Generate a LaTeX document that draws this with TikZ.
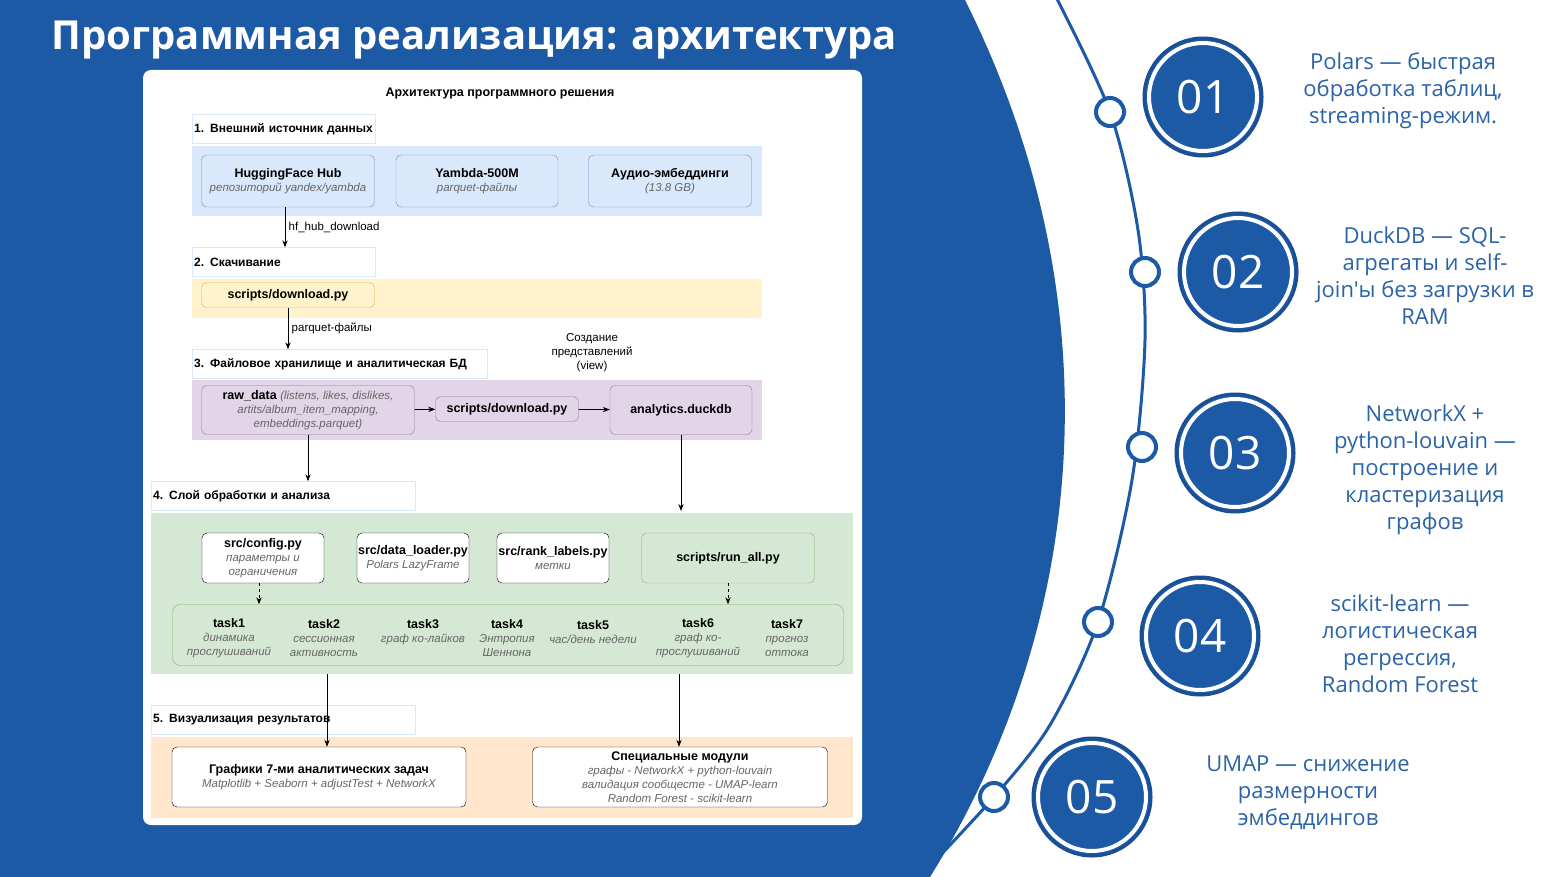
\documentclass[tikz,border=0pt]{standalone}
\usepackage{fontspec}
\setmainfont{Liberation Sans}
\newfontfamily\slidefont{Open Sans}
\usetikzlibrary{positioning,arrows.meta}
\definecolor{slideblue}{HTML}{1D5AA6}
\definecolor{ringblue}{HTML}{1A4F93}
\definecolor{txtblue}{HTML}{2A63A8}
\definecolor{bandblue}{HTML}{DAE8FC}
\definecolor{lineblue}{HTML}{6C8EBF}
\definecolor{bandyellow}{HTML}{FFF2CC}
\definecolor{lineyellow}{HTML}{D6B656}
\definecolor{bandpurple}{HTML}{E1D5E7}
\definecolor{linepurple}{HTML}{9673A6}
\definecolor{bandgreen}{HTML}{D5E8D4}
\definecolor{linegreen}{HTML}{82B366}
\definecolor{bandorange}{HTML}{FFE6CC}
\newcommand{\subtxt}[1]{{\fontsize{11.5}{14}\selectfont\mdseries\itshape\color{black!60}#1}}
\tikzset
{
    sectlabel/.style = {draw=bandblue, fill=white, anchor=west, inner xsep=2pt, align=left, font=\fontsize{12}{13}\selectfont\bfseries, minimum height=29pt},
    box/.style       = {draw, rounded corners=5pt, align=center, font=\fontsize{12.5}{14}\selectfont\bfseries, inner sep=1pt},
    task/.style      = {align=center, font=\fontsize{12.5}{14}\selectfont\bfseries},
    numcirc/.style   = {circle, fill=slideblue, draw=ringblue, line width=3pt, minimum size=118pt, text=white, font=\slidefont\fontsize{46}{46}\selectfont},
    numring/.style   = {circle, draw=white, line width=4pt, minimum size=108pt},
    dot/.style       = {circle, fill=white, draw=slideblue, line width=4pt, minimum size=28pt},
    sidetext/.style  = {align=center, text=txtblue, font=\slidefont\fontsize{22}{27}\selectfont},
    flow/.style      = {-{Stealth[length=7pt]}, thick}
}
\begin{document}
\begin{tikzpicture}[x=1pt, y=-1pt]
    \useasboundingbox (0,0) rectangle (1560,877);
    \fill[white] (0,0) rectangle (1560,877);
    % blue background
    \fill[slideblue] (0,0) -- (965,0) .. controls (1115,300) and (1090,620) .. (930,877) -- (0,877) -- cycle;
    \node[anchor=west, text=white, font=\slidefont\fontsize{40}{40}\selectfont\bfseries] (title) at (48,40) {Программная реализация: архитектура};
    % arc with circles
    \draw[slideblue, line width=3pt] plot[smooth] coordinates {(1055,-5) (1110,112) (1138,230) (1145,340) (1132,480) (1098,622) (1050,725) (994,797) (915,882)};
    \node[dot] (d1) at (1110,112) {};
    \node[dot] (d2) at (1145,272) {};
    \node[dot] (d3) at (1142,447) {};
    \node[dot] (d4) at (1098,622) {};
    \node[dot] (d5) at (994,797) {};
    \foreach \n/\p in {1/{1203,97}, 2/{1238,272}, 3/{1235,453}, 4/{1200,636}, 5/{1092,797}}
    {
        \node[numcirc] (c\n) at (\p) {0\n};
        \node[numring] at (\p) {};
    }
    \node[sidetext] (t1) at (1403,91) {Polars — быстрая\\обработка таблиц,\\streaming-режим.};
    \node[sidetext] (t2) at (1425,276) {DuckDB — SQL-\\агрегаты и self-\\join'ы без загрузки в\\RAM};
    \node[sidetext] (t3) at (1425,470) {NetworkX +\\python-louvain —\\построение и\\кластеризация\\графов};
    \node[sidetext] (t4) at (1400,644) {scikit-learn —\\логистическая\\регрессия,\\Random Forest};
    \node[sidetext] (t5) at (1308,793) {UMAP — снижение\\размерности\\эмбеддингов};
    % diagram panel
    \fill[white, rounded corners=8pt] (143,70) rectangle (862,825);
    \node[font=\fontsize{12.5}{13}\selectfont\bfseries] (dtitle) at (500,93) {Архитектура программного решения};
    % bands
    \fill[bandblue] (192,146) rectangle (762,216);
    \fill[bandyellow] (192,279) rectangle (762,318);
    \fill[bandpurple] (192,380) rectangle (762,440);
    \fill[bandgreen] (151,513) rectangle (853,674);
    \fill[bandorange] (151,737) rectangle (853,818);
    \node[sectlabel, text width=179pt] (s1) at (192,129) {1. Внешний источник данных};
    \node[sectlabel, text width=179pt] (s2) at (192,262) {2. Скачивание};
    \node[sectlabel, text width=291pt] (s3) at (192,364) {3. Файловое хранилище и аналитическая БД};
    \node[sectlabel, text width=260pt] (s4) at (151,496) {4. Слой обработки и анализа};
    \node[sectlabel, text width=260pt] (s5) at (151,720) {5. Визуализация результатов};
    % 1
    \node[box, fill=bandblue, draw=lineblue, minimum width=173pt, minimum height=52pt] (hf) at (288,181) {HuggingFace Hub\\\subtxt{репозиторий yandex/yambda}};
    \node[box, fill=bandblue, draw=lineblue, minimum width=162pt, minimum height=52pt] (yambda) at (477,181) {Yambda-500M\\\subtxt{parquet-файлы}};
    \node[box, fill=bandblue, draw=lineblue, minimum width=163pt, minimum height=52pt] (audio) at (670,181) {Аудио-эмбеддинги\\\subtxt{(13.8 GB)}};
    % 2
    \node[box, fill=bandyellow, draw=lineyellow, minimum width=173pt, minimum height=25pt] (dl) at (288,295) {scripts/download.py};
    % 3
    \node[box, fill=bandpurple, draw=linepurple, minimum width=213pt, minimum height=49pt] (raw) at (308,410) {raw\_data \subtxt{(listens, likes, dislikes,}\\\subtxt{artits/album\_item\_mapping,}\\\subtxt{embeddings.parquet)}};
    \node[box, fill=bandpurple, draw=linepurple, minimum width=143pt, minimum height=25pt] (dl2) at (507,409) {scripts/download.py};
    \node[box, fill=bandpurple, draw=linepurple, minimum width=142pt, minimum height=49pt] (duck) at (681,410) {analytics.duckdb};
    \node[align=center, font=\fontsize{11.5}{14}\selectfont] (view) at (592,353) {Создание\\представлений\\(view)};
    % 4
    \node[box, fill=white, minimum width=122pt, minimum height=50pt] (cfg) at (263,558) {src/config.py\\\subtxt{параметры и}\\\subtxt{ограничения}};
    \node[box, fill=white, minimum width=112pt, minimum height=50pt] (loader) at (413,558) {src/data\_loader.py\\\subtxt{Polars LazyFrame}};
    \node[box, fill=white, minimum width=112pt, minimum height=50pt] (rank) at (553,558) {src/rank\_labels.py\\\subtxt{метки}};
    \node[box, fill=bandgreen, draw=linegreen, minimum width=173pt, minimum height=50pt] (runall) at (728,558) {scripts/run\_all.py};
    \node[draw=linegreen, rounded corners=8pt, minimum width=671pt, minimum height=61pt] (tasks) at (508,635) {};
    \node[task] (k1) at (229,638) {task1\\\subtxt{динамика}\\\subtxt{прослушиваний}};
    \node[task] (k2) at (324,638) {task2\\\subtxt{сессионная}\\\subtxt{активность}};
    \node[task] (k3) at (423,632) {task3\\\subtxt{граф ко-лайков}};
    \node[task] (k4) at (507,638) {task4\\\subtxt{Энтропия}\\\subtxt{Шеннона}};
    \node[task] (k5) at (593,632) {task5\\\subtxt{час/день недели}};
    \node[task] (k6) at (698,638) {task6\\\subtxt{граф ко-}\\\subtxt{прослушиваний}};
    \node[task] (k7) at (787,638) {task7\\\subtxt{прогноз}\\\subtxt{оттока}};
    % 5
    \node[box, fill=white, minimum width=294pt, minimum height=60pt] (plots) at (319,777) {Графики 7-ми аналитических задач\\\subtxt{Matplotlib + Seaborn + adjustTest + NetworkX}};
    \node[box, fill=white, minimum width=295pt, minimum height=60pt] (special) at (680,777) {Специальные модули\\\subtxt{графы - NetworkX + python-louvain}\\\subtxt{валидация сообщесте - UMAP-learn}\\\subtxt{Random Forest - scikit-learn}};
    % connectors
    \draw[flow] (hf.south -| 285,0) -- node[right, font=\fontsize{11.5}{12}\selectfont] {hf\_hub\_download} (s2.north -| 285,0);
    \draw[flow] (dl.south) -- node[right, font=\fontsize{11.5}{12}\selectfont] {parquet-файлы} (s3.north -| dl.south);
    \draw[flow] (raw) -- (dl2);
    \draw[flow] (dl2) -- (duck);
    \draw[flow] (raw.south) -- (s4.north -| raw.south);
    \draw[flow] (duck.south) -- (duck.south |- 0,511);
    \draw[flow, dashed] (cfg.south -| 259,0) -- (tasks.north -| 259,0);
    \draw[flow, dashed] (runall.south) -- (tasks.north -| runall.south);
    \draw[flow] (327,674) -- (plots.north -| 327,0);
    \draw[flow] (679,674) -- (special.north -| 679,0);
\end{tikzpicture}
\end{document}
